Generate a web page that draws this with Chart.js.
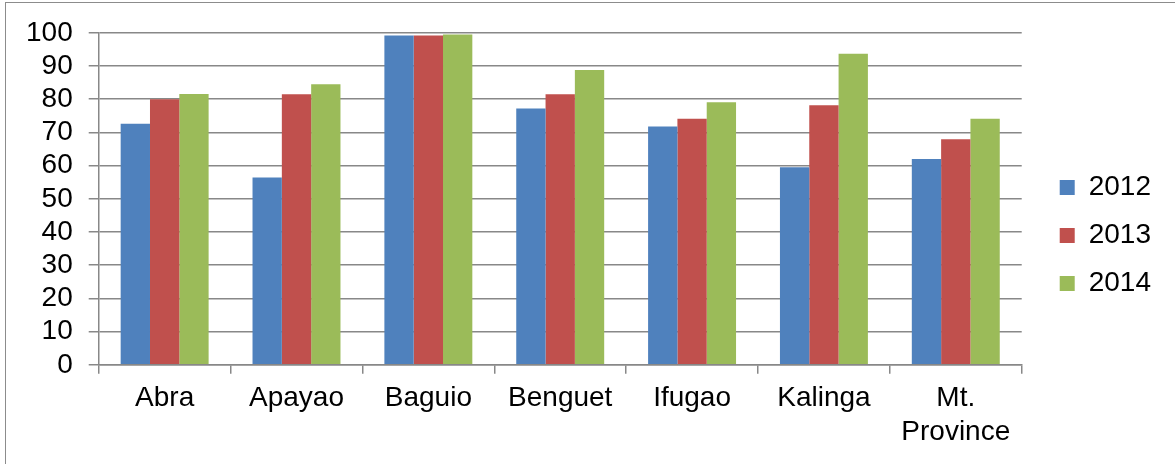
<!DOCTYPE html>
<html>
<head>
<meta charset="utf-8">
<script src="https://cdn.jsdelivr.net/npm/chart.js@4/dist/chart.umd.min.js"></script>
<style>
    body { margin: 0; background: #fff; }
    #marco {
        position: absolute; left: 5px; top: 2px;
        width: 1180px; height: 470px;
        border: 1px solid #8c8c8c;
    }
    #lienzo { position: absolute; left: 0; top: 0; width: 1175px; height: 464px; }
</style>
</head>
<body>
<div id="marco"></div>
<div id="lienzo"><canvas id="grafico"></canvas></div>
<script>
// Datos
const provincias = ['Abra', 'Apayao', 'Baguio', 'Benguet', 'Ifugao', 'Kalinga', ['Mt.', 'Province']];
const anios = ['2012', '2013', '2014'];
const valores2012 = [72.6, 56.4, 99.2, 77.2, 71.8, 59.5, 62.0];
const valores2013 = [80.0, 81.5, 99.2, 81.5, 74.1, 78.2, 67.9];
const valores2014 = [81.6, 84.5, 99.5, 88.8, 79.1, 93.7, 74.1];
const colores = ['#4F81BD', '#C0504D', '#9BBB59'];

const fuente = { family: "'Liberation Sans', Arial, sans-serif", size: 28 };

// sube un poco la leyenda, queda centrada en toda la altura como en Excel
const subirLeyenda = {
    id: 'subirLeyenda',
    afterLayout(chart) {
        chart.legend.top -= 9;
        chart.legend.bottom -= 9;
    }
};

const ctx = document.getElementById('grafico').getContext('2d');

new Chart(ctx, {
    type: 'bar',
    data: {
        labels: provincias,
        datasets: [
            { label: anios[0], data: valores2012, backgroundColor: colores[0] },
            { label: anios[1], data: valores2013, backgroundColor: colores[1] },
            { label: anios[2], data: valores2014, backgroundColor: colores[2] }
        ]
    },
    options: {
        responsive: true,
        maintainAspectRatio: false,
        animation: false,
        datasets: {
            bar: {
                categoryPercentage: 0.667,
                barPercentage: 1.0,
                borderWidth: 0
            }
        },
        layout: {
            padding: { left: 10, top: 32, right: 14, bottom: 7 }
        },
        plugins: {
            legend: {
                position: 'right',
                align: 'center',
                labels: {
                    color: '#000',
                    font: fuente,
                    boxWidth: 15,
                    boxHeight: 15,
                    padding: 20
                }
            },
            tooltip: { enabled: false }
        },
        scales: {
            y: {
                min: 0,
                max: 100,
                ticks: {
                    stepSize: 10,
                    autoSkip: false,
                    color: '#000',
                    padding: 16,
                    font: fuente
                },
                grid: {
                    color: '#888',
                    lineWidth: 1.5,
                    tickLength: 10
                },
                border: { color: '#888', width: 1.5 }
            },
            // eje vacio solo para separar el area del grafico de la leyenda
            hueco: {
                type: 'linear',
                position: 'right',
                ticks: { display: false },
                grid: { display: false },
                border: { display: false },
                afterFit: (escala) => { escala.width = 18; }
            },
            x: {
                ticks: {
                    color: '#000',
                    padding: 8,
                    maxRotation: 0,
                    autoSkip: false,
                    font: fuente
                },
                grid: {
                    drawOnChartArea: false,
                    color: '#888',
                    lineWidth: 1.5,
                    tickLength: 9
                },
                border: { color: '#888', width: 1.5 }
            }
        }
    },
    plugins: [subirLeyenda]
});
</script>
</body>
</html>
